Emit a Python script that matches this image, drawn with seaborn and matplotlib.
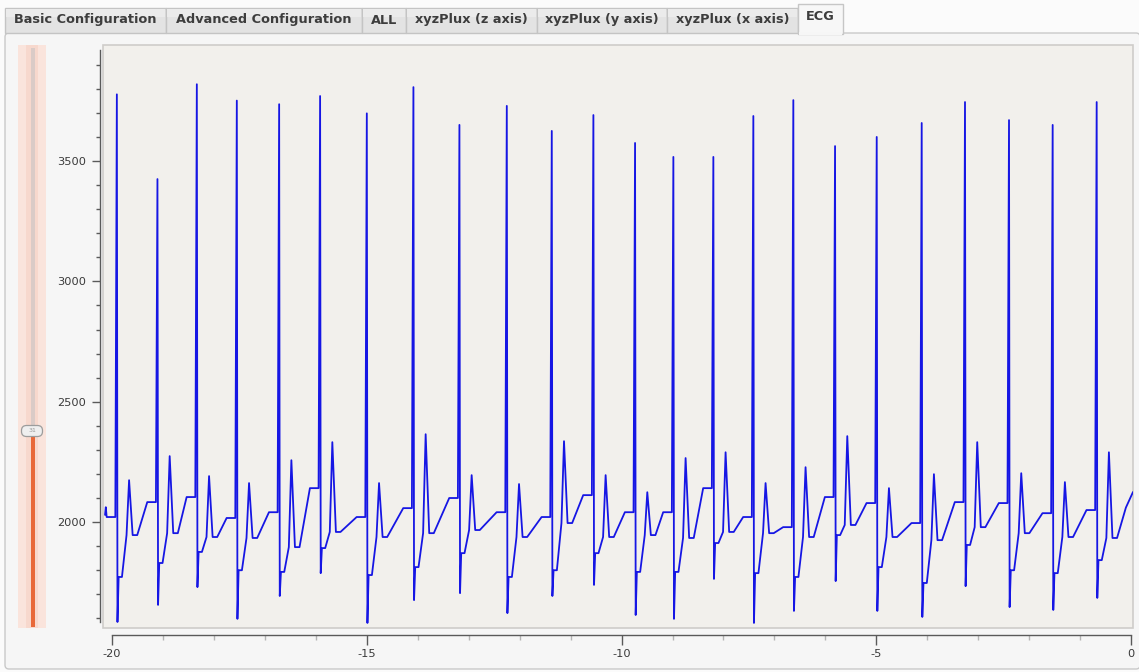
import numpy as np
import pandas as pd
import matplotlib
matplotlib.use("Agg")
import matplotlib.pyplot as plt
import seaborn as sns
from matplotlib.patches import Rectangle, FancyBboxPatch
from matplotlib.ticker import MultipleLocator, FixedLocator

# ---------------- data ----------------
tab_labels = ["Basic Configuration", "Advanced Configuration", "ALL",
              "xyzPlux (z axis)", "xyzPlux (y axis)", "xyzPlux (x axis)", "ECG"]

# per-beat values (time of R peak in s, amplitudes in ADC units)
r_time = [-19.908, -19.111, -18.338, -17.553, -16.722, -15.918, -15.001, -14.086,
          -13.183, -12.253, -11.370, -10.553, -9.735, -8.983, -8.198, -7.413,
          -6.628, -5.809, -4.991, -4.108, -3.258, -2.394, -1.537, -0.673]
r_peak = [3777, 3425, 3819, 3751, 3736, 3770, 3698, 3807, 3650, 3729, 3625, 3691,
          3575, 3517, 3517, 3687, 3753, 3562, 3600, 3658, 3745, 3670, 3650, 3745]
s_trough = [1585, 1656, 1730, 1598, 1693, 1788, 1581, 1676, 1705, 1622, 1693, 1739,
            1614, 1598, 1764, 1581, 1631, 1755, 1631, 1606, 1734, 1647, 1635, 1685]
st_level = [1772, 1830, 1876, 1800, 1793, 1892, 1780, 1813, 1871, 1772, 1800, 1871,
            1793, 1793, 1913, 1788, 1772, 1946, 1813, 1747, 1905, 1800, 1788, 1842]
t_peak = [2174, 2274, 2191, 2162, 2257, 2332, 2162, 2365, 2195, 2158, 2336, 2195,
          2124, 2266, 2290, 2162, 2228, 2357, 2141, 2199, 2332, 2203, 2166, 2290]
post_t = [1946, 1954, 1938, 1934, 1896, 1959, 1938, 1954, 1967, 1938, 1996, 1938,
          1946, 1934, 1959, 1954, 1938, 1988, 1938, 1925, 1979, 1954, 1938, 1934]
pre_r = [2021, 2083, 2104, 2017, 2041, 2141, 2021, 2058, 2100, 2041, 2021, 2112,
         2041, 2041, 2141, 2021, 1979, 2104, 2079, 1996, 2083, 2079, 2037, 2050]

start_t = [-20.14, -20.125, -20.115]
start_v = [2030, 2062, 2035]
end_t = [-0.10, 0.04]
end_v = [2060, 2125]

x_major = [-20, -15, -10, -5, 0]
y_major = [2000, 2500, 3000, 3500]

# beat shape: vertex offsets (s) relative to each R peak
beat_offsets = [-0.20, -0.03, 0.0, 0.012, 0.035, 0.10, 0.19, 0.24, 0.31, 0.40]

times, vals = list(start_t), list(start_v)
for i, tr in enumerate(r_time):
    v = [pre_r[i], pre_r[i], r_peak[i], s_trough[i], st_level[i], st_level[i],
         post_t[i], t_peak[i], post_t[i], post_t[i]]
    times += [tr + o for o in beat_offsets]
    vals += v
times += end_t
vals += end_v
df = pd.DataFrame({"t": times, "v": vals})

# ---------------- figure ----------------
sns.set_theme(style="white")
plt.rcParams["font.family"] = ["DejaVu Sans"]

W, H = 1139, 672
fig = plt.figure(figsize=(W / 100, H / 100), dpi=100, facecolor="#fbfbfb")

# overlay for the GUI chrome (pixel coordinates)
ov = fig.add_axes([0, 0, 1, 1], zorder=0)
ov.set_xlim(0, W)
ov.set_ylim(H, 0)
ov.axis("off")

# content frame
ov.add_patch(FancyBboxPatch((5, 33), W - 4, 636, boxstyle="round,pad=0,rounding_size=4",
                            fc="#f6f6f6", ec="#c9c9c9", lw=1))
# tabs
tab_x = [5, 166, 362, 406, 537, 667, 798, 843]
for i, lab in enumerate(tab_labels):
    x0, x1 = tab_x[i], tab_x[i + 1]
    if lab == "ECG":
        ov.add_patch(Rectangle((x0, 4), x1 - x0, 30, fc="#f7f7f7", ec="#c6c6c6", lw=1))
        ov.add_patch(Rectangle((x0 + 0.8, 32), x1 - x0 - 1.6, 3, fc="#f6f6f6", ec="none"))
        ty = 17
    else:
        ov.add_patch(Rectangle((x0, 8), x1 - x0, 25, fc="#e3e3e3", ec="#c4c4c4", lw=1))
        ov.add_patch(Rectangle((x0 + 1, 9), x1 - x0 - 2, 8, fc="#ebebeb", ec="none"))
        ty = 20
    ov.text((x0 + x1) / 2, ty, lab, ha="center", va="center", fontsize=9.3,
            fontweight="bold", color="#3d3d3d")

# slider
ov.add_patch(Rectangle((18, 45), 28, 583, fc="#fae4dc", ec="none"))
ov.add_patch(Rectangle((26, 45), 12, 583, fc="#f7d8cd", ec="none"))
ov.add_patch(Rectangle((31, 48), 4, 383, fc="#dacbc7", ec="none"))
ov.add_patch(Rectangle((30.5, 432), 4.5, 195, fc="#e8693a", ec="none"))
ov.add_patch(FancyBboxPatch((21.5, 425.5), 21, 11, boxstyle="round,pad=0,rounding_size=5",
                            fc="#efefef", ec="#9c9c9c", lw=0.9))
ov.text(32, 431, "31", fontsize=4.5, color="#9a9a9a", ha="center", va="center")

# ---------------- main chart ----------------
ax = fig.add_axes([103 / W, (H - 628) / H, 1030 / W, 583 / H], zorder=1)
ax.set_facecolor("#f2f0ec")
ax.add_patch(Rectangle((0, 0), 1, 1, transform=ax.transAxes, fill=False,
                       ec="#cfcdca", lw=1.2, clip_on=False, zorder=0.5))

sns.lineplot(data=df, x="t", y="v", ax=ax, color="#1616e4", linewidth=1.3,
             estimator=None, sort=False)

ax.set_xlim(-20.18, 0.04)
ax.set_ylim(1560, 3982)
ax.set_xlabel("")
ax.set_ylabel("")

for s in ["top", "right"]:
    ax.spines[s].set_visible(False)
ax.spines["left"].set_position(("outward", 2.2))
ax.spines["bottom"].set_position(("outward", 5))
ax.spines["left"].set_bounds(1585, 3960)
ax.spines["bottom"].set_bounds(-20, 0)
for s in ["left", "bottom"]:
    ax.spines[s].set_color("#5a5a5a")
    ax.spines[s].set_linewidth(1.0)

ax.xaxis.set_major_locator(FixedLocator(x_major))
ax.xaxis.set_minor_locator(MultipleLocator(1))
ax.yaxis.set_major_locator(FixedLocator(y_major))
ax.yaxis.set_minor_locator(MultipleLocator(100))
ax.set_xticklabels([str(v) for v in x_major])
ax.set_yticklabels([str(v) for v in y_major])

ax.tick_params(axis="y", which="major", direction="out", length=6, width=1,
               color="#5a5a5a", pad=4, labelsize=8.2, labelcolor="#3a3a3a", left=True)
ax.tick_params(axis="y", which="minor", direction="out", length=3, width=1,
               color="#5a5a5a", left=True)
ax.tick_params(axis="x", which="major", direction="out", length=7, width=1,
               color="#5a5a5a", pad=3, labelsize=8.2, labelcolor="#3a3a3a", bottom=True)
ax.tick_params(axis="x", which="minor", direction="out", length=3.5, width=1,
               color="#b5b5b5", bottom=True)
ax.grid(False)

fig.savefig("out.png", dpi=100, facecolor=fig.get_facecolor())
